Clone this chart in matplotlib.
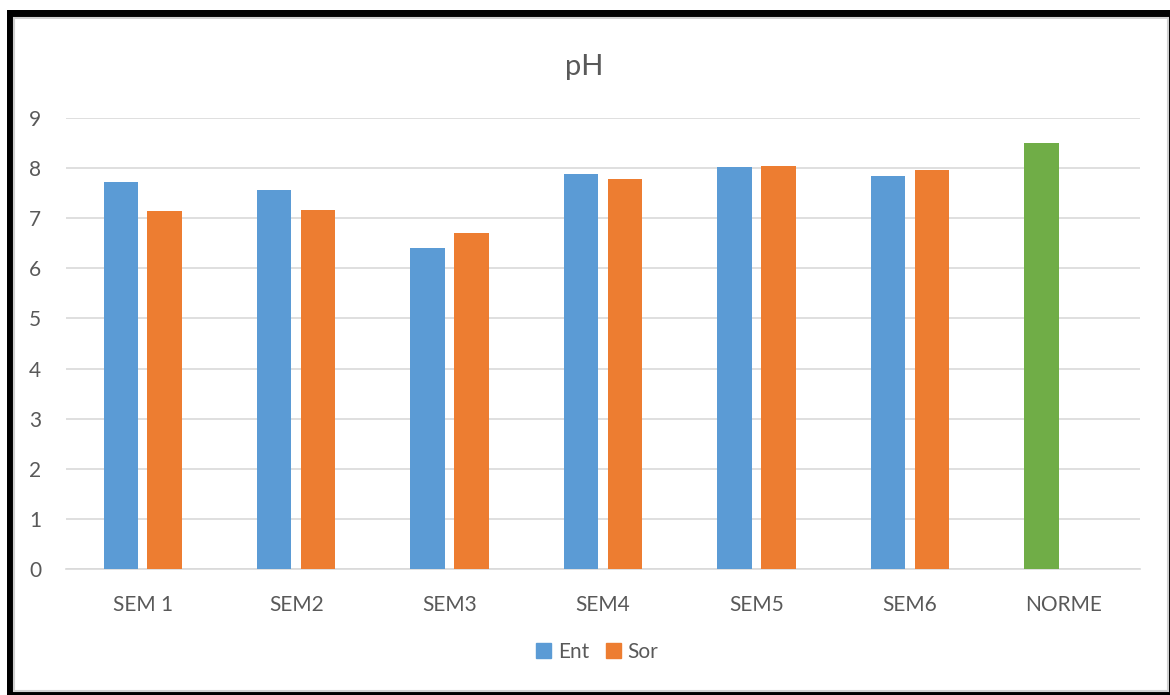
import matplotlib.pyplot as plt
import numpy as np
from matplotlib.patches import Rectangle

# data
categories = ['SEM 1', 'SEM2', 'SEM3', 'SEM4', 'SEM5', 'SEM6', 'NORME']
ent = [7.72, 7.56, 6.41, 7.88, 8.02, 7.84, 8.50]
sor = [7.14, 7.17, 6.71, 7.78, 8.04, 7.96, np.nan]
ent_colors = ['#5b9bd5'] * 6 + ['#70ad47']

plt.rcParams['font.family'] = ['Lato', 'DejaVu Sans']

fig = plt.figure(figsize=(11.7, 6.95), dpi=100)

# outer frame
fig.patches.append(Rectangle((0, 0), 1, 1, transform=fig.transFigure,
                             facecolor='white', edgecolor='none', zorder=-3))
fig.patches.append(Rectangle((7 / 1170, 0), 1163 / 1170, 685 / 695,
                             transform=fig.transFigure, facecolor='black',
                             edgecolor='none', zorder=-2))
fig.patches.append(Rectangle((14 / 1170, 4 / 695), 1154 / 1170, 673 / 695,
                             transform=fig.transFigure, facecolor='white',
                             edgecolor='#d0d0d0', linewidth=1.5, zorder=-1))

ax = fig.add_axes([66 / 1170, (695 - 569) / 695, (1140 - 66) / 1170, (569 - 118) / 695])
ax.set_facecolor('none')

x = np.arange(len(categories))
w = 0.225
off = 0.143
ax.bar(x - off, ent, w, color=ent_colors, label='Ent', zorder=3)
ax.bar(x + off, sor, w, color='#ed7d31', label='Sor', zorder=3)

ax.set_xlim(-0.5, len(categories) - 0.5)
ax.set_ylim(0, 9)
ax.set_yticks(range(0, 10))
ax.set_xticks(x)
ax.set_xticklabels(categories)
ax.grid(axis='y', color='#d9d9d9', linewidth=1.2, zorder=0)
for s in ['top', 'right', 'left']:
    ax.spines[s].set_visible(False)
ax.spines['bottom'].set_color('#d9d9d9')
ax.spines['bottom'].set_linewidth(1.2)
ax.tick_params(axis='both', length=0, colors='#595959', labelsize=15)
ax.tick_params(axis='x', pad=19)
ax.tick_params(axis='y', pad=18)

fig.text(584 / 1170, 1 - 67 / 695, 'pH', ha='center', va='center',
         fontsize=21, color='#595959')

handles = [Rectangle((0, 0), 1, 1, color='#5b9bd5'), Rectangle((0, 0), 1, 1, color='#ed7d31')]
fig.legend(handles, ['Ent', 'Sor'], loc='center', bbox_to_anchor=(597 / 1170, 1 - 652 / 695),
           ncol=2, frameon=False, fontsize=15, labelcolor='#595959',
           handlelength=0.75, handleheight=0.75, handletextpad=0.3, columnspacing=0.8)

fig.savefig('out.png', dpi=100)
